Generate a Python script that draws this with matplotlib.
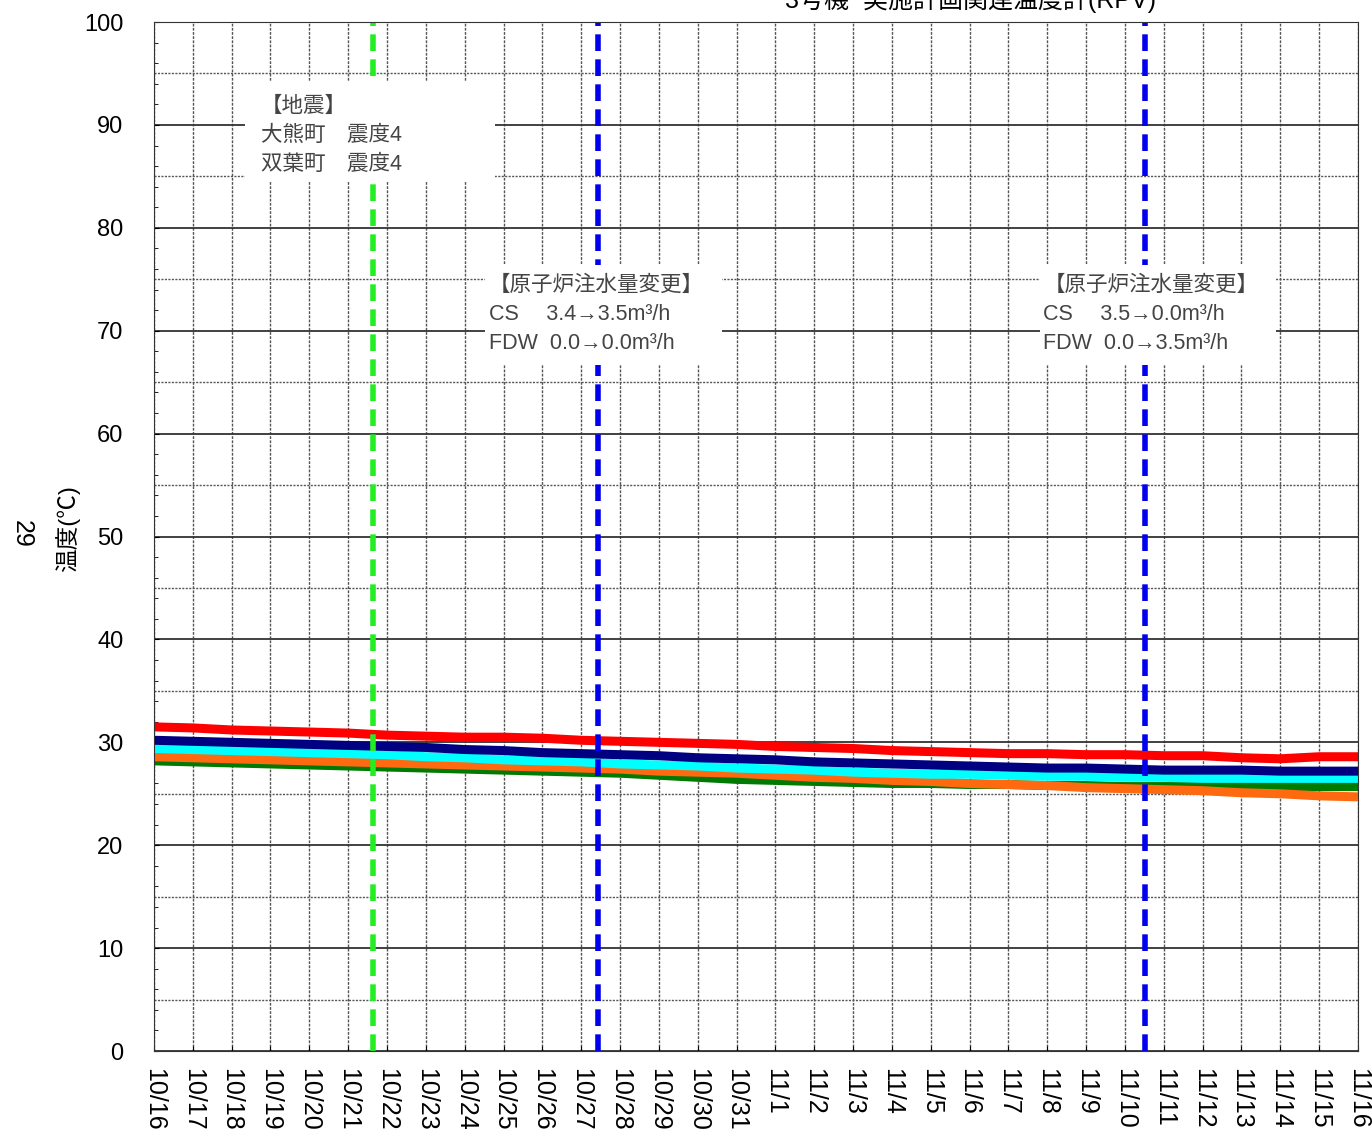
import numpy as np
import matplotlib
matplotlib.use('Agg')
import matplotlib.pyplot as plt
from matplotlib.patches import Rectangle

plt.rcParams['font.family'] = ['Liberation Sans', 'Noto Sans CJK JP', 'DejaVu Sans']

# daily readings from 10/16 (day 0) to 11/16 (day 31)
tick_labels = ['10/%d' % d for d in range(16, 32)] + ['11/%d' % d for d in range(1, 17)]
days = np.arange(len(tick_labels))

temp_red = [31.5, 31.4, 31.2, 31.1, 31.0, 30.9, 30.7, 30.6, 30.5, 30.5, 30.4, 30.2, 30.1, 30.0, 29.9, 29.8,
            29.6, 29.5, 29.4, 29.2, 29.1, 29.0, 28.9, 28.9, 28.8, 28.8, 28.7, 28.7, 28.5, 28.4, 28.6, 28.6]
temp_navy = [30.2, 30.1, 30.0, 29.9, 29.8, 29.7, 29.6, 29.5, 29.3, 29.2, 29.0, 28.9, 28.8, 28.7, 28.5, 28.4,
             28.3, 28.1, 28.0, 27.9, 27.8, 27.7, 27.6, 27.5, 27.5, 27.4, 27.3, 27.3, 27.3, 27.2, 27.2, 27.2]
temp_cyan = [29.4, 29.3, 29.2, 29.1, 29.0, 28.9, 28.8, 28.6, 28.5, 28.3, 28.2, 28.1, 27.9, 27.8, 27.7, 27.5,
             27.4, 27.3, 27.1, 27.0, 26.9, 26.9, 26.8, 26.7, 26.7, 26.6, 26.6, 26.5, 26.5, 26.5, 26.5, 26.5]
temp_orange = [28.6, 28.5, 28.4, 28.3, 28.2, 28.1, 28.0, 27.9, 27.8, 27.7, 27.6, 27.5, 27.4, 27.2, 27.1, 27.0,
               26.8, 26.6, 26.5, 26.3, 26.2, 26.0, 25.9, 25.8, 25.6, 25.5, 25.4, 25.3, 25.1, 25.0, 24.8, 24.7]
temp_green = [28.2, 28.1, 28.0, 27.9, 27.8, 27.7, 27.6, 27.5, 27.4, 27.3, 27.2, 27.1, 27.0, 26.8, 26.6, 26.4,
              26.3, 26.2, 26.1, 26.0, 26.0, 25.9, 25.9, 25.8, 25.8, 25.7, 25.7, 25.7, 25.7, 25.7, 25.7, 25.7]

# events (day offset from 10/16)
quake_day = 5.64
flow_change_days = [11.43, 25.52]

quake_text = '【地震】\n大熊町　震度4\n双葉町　震度4'
flow_texts = ['【原子炉注水量変更】\nCS　 3.4→3.5m³/h\nFDW  0.0→0.0m³/h',
              '【原子炉注水量変更】\nCS　 3.5→0.0m³/h\nFDW  0.0→3.5m³/h']

fig = plt.figure(figsize=(13.72, 11.36), dpi=100)
ax = fig.add_axes([0.1122, 0.0748, 0.8776, 0.9058])

# grid
for d in days:
    ax.axvline(d, color='#555555', lw=1.0, ls=(0, (2, 1)), zorder=1)
for v in range(0, 101, 10):
    ax.axhline(v, color='#333333', lw=1.3, zorder=1)
for v in range(5, 100, 10):
    ax.axhline(v, color='#555555', lw=1.0, ls=(0, (1.5, 1)), zorder=1)

# temperature lines
for vals, col in [(temp_green, '#007a00'), (temp_orange, '#ff6a10'), (temp_cyan, '#00ffff'),
                  (temp_navy, '#000080'), (temp_red, '#ff0000')]:
    ax.plot(days, vals, color=col, lw=6.5, solid_capstyle='butt', zorder=3)

# event lines
ax.axvline(quake_day, color='#22ee22', lw=4, ls=(0, (3, 1.5)), zorder=4)
for d in flow_change_days:
    ax.axvline(d, color='#0000ee', lw=4, ls=(0, (3, 1.5)), zorder=4)

# annotation boxes
ax.add_patch(Rectangle((2.34, 84.5), 6.44, 9.7, facecolor='white', edgecolor='none', zorder=5))
ax.text(2.75, 92.8, quake_text, fontsize=15.5, color='#444444', va='top', ha='left',
        linespacing=1.5, zorder=6)
for x0, txt in zip([8.52, 22.8], flow_texts):
    ax.add_patch(Rectangle((x0, 66.7), 6.1, 9.7, facecolor='white', edgecolor='none', zorder=5))
    ax.text(x0 + 0.1, 75.4, txt, fontsize=15.5, color='#444444', va='top', ha='left',
            linespacing=1.5, zorder=6)

ax.set_xlim(0, 31)
ax.set_ylim(0, 100)
ax.set_xticks(days)
ax.set_xticklabels(tick_labels, rotation=-90, fontsize=18)
ax.set_yticks(range(0, 101, 10))
ax.tick_params(axis='y', labelsize=17, direction='in', pad=22)
ax.tick_params(axis='x', direction='in', pad=12)
ax.set_yticks(range(0, 101, 2), minor=True)
ax.tick_params(axis='y', which='minor', direction='in', length=3)
for s in ax.spines.values():
    s.set_color('#333333')
    s.set_zorder(7)

fig.text(0.049, 0.535, '温度(℃)', rotation=90, fontsize=17, ha='center', va='center')
fig.text(0.016, 0.53, '29', rotation=-90, fontsize=18, ha='center', va='center')
fig.text(0.707, 0.993, '3号機  実施計画関連温度計(RPV)', fontsize=18, ha='center', va='baseline')

fig.savefig('out.png', dpi=100)
